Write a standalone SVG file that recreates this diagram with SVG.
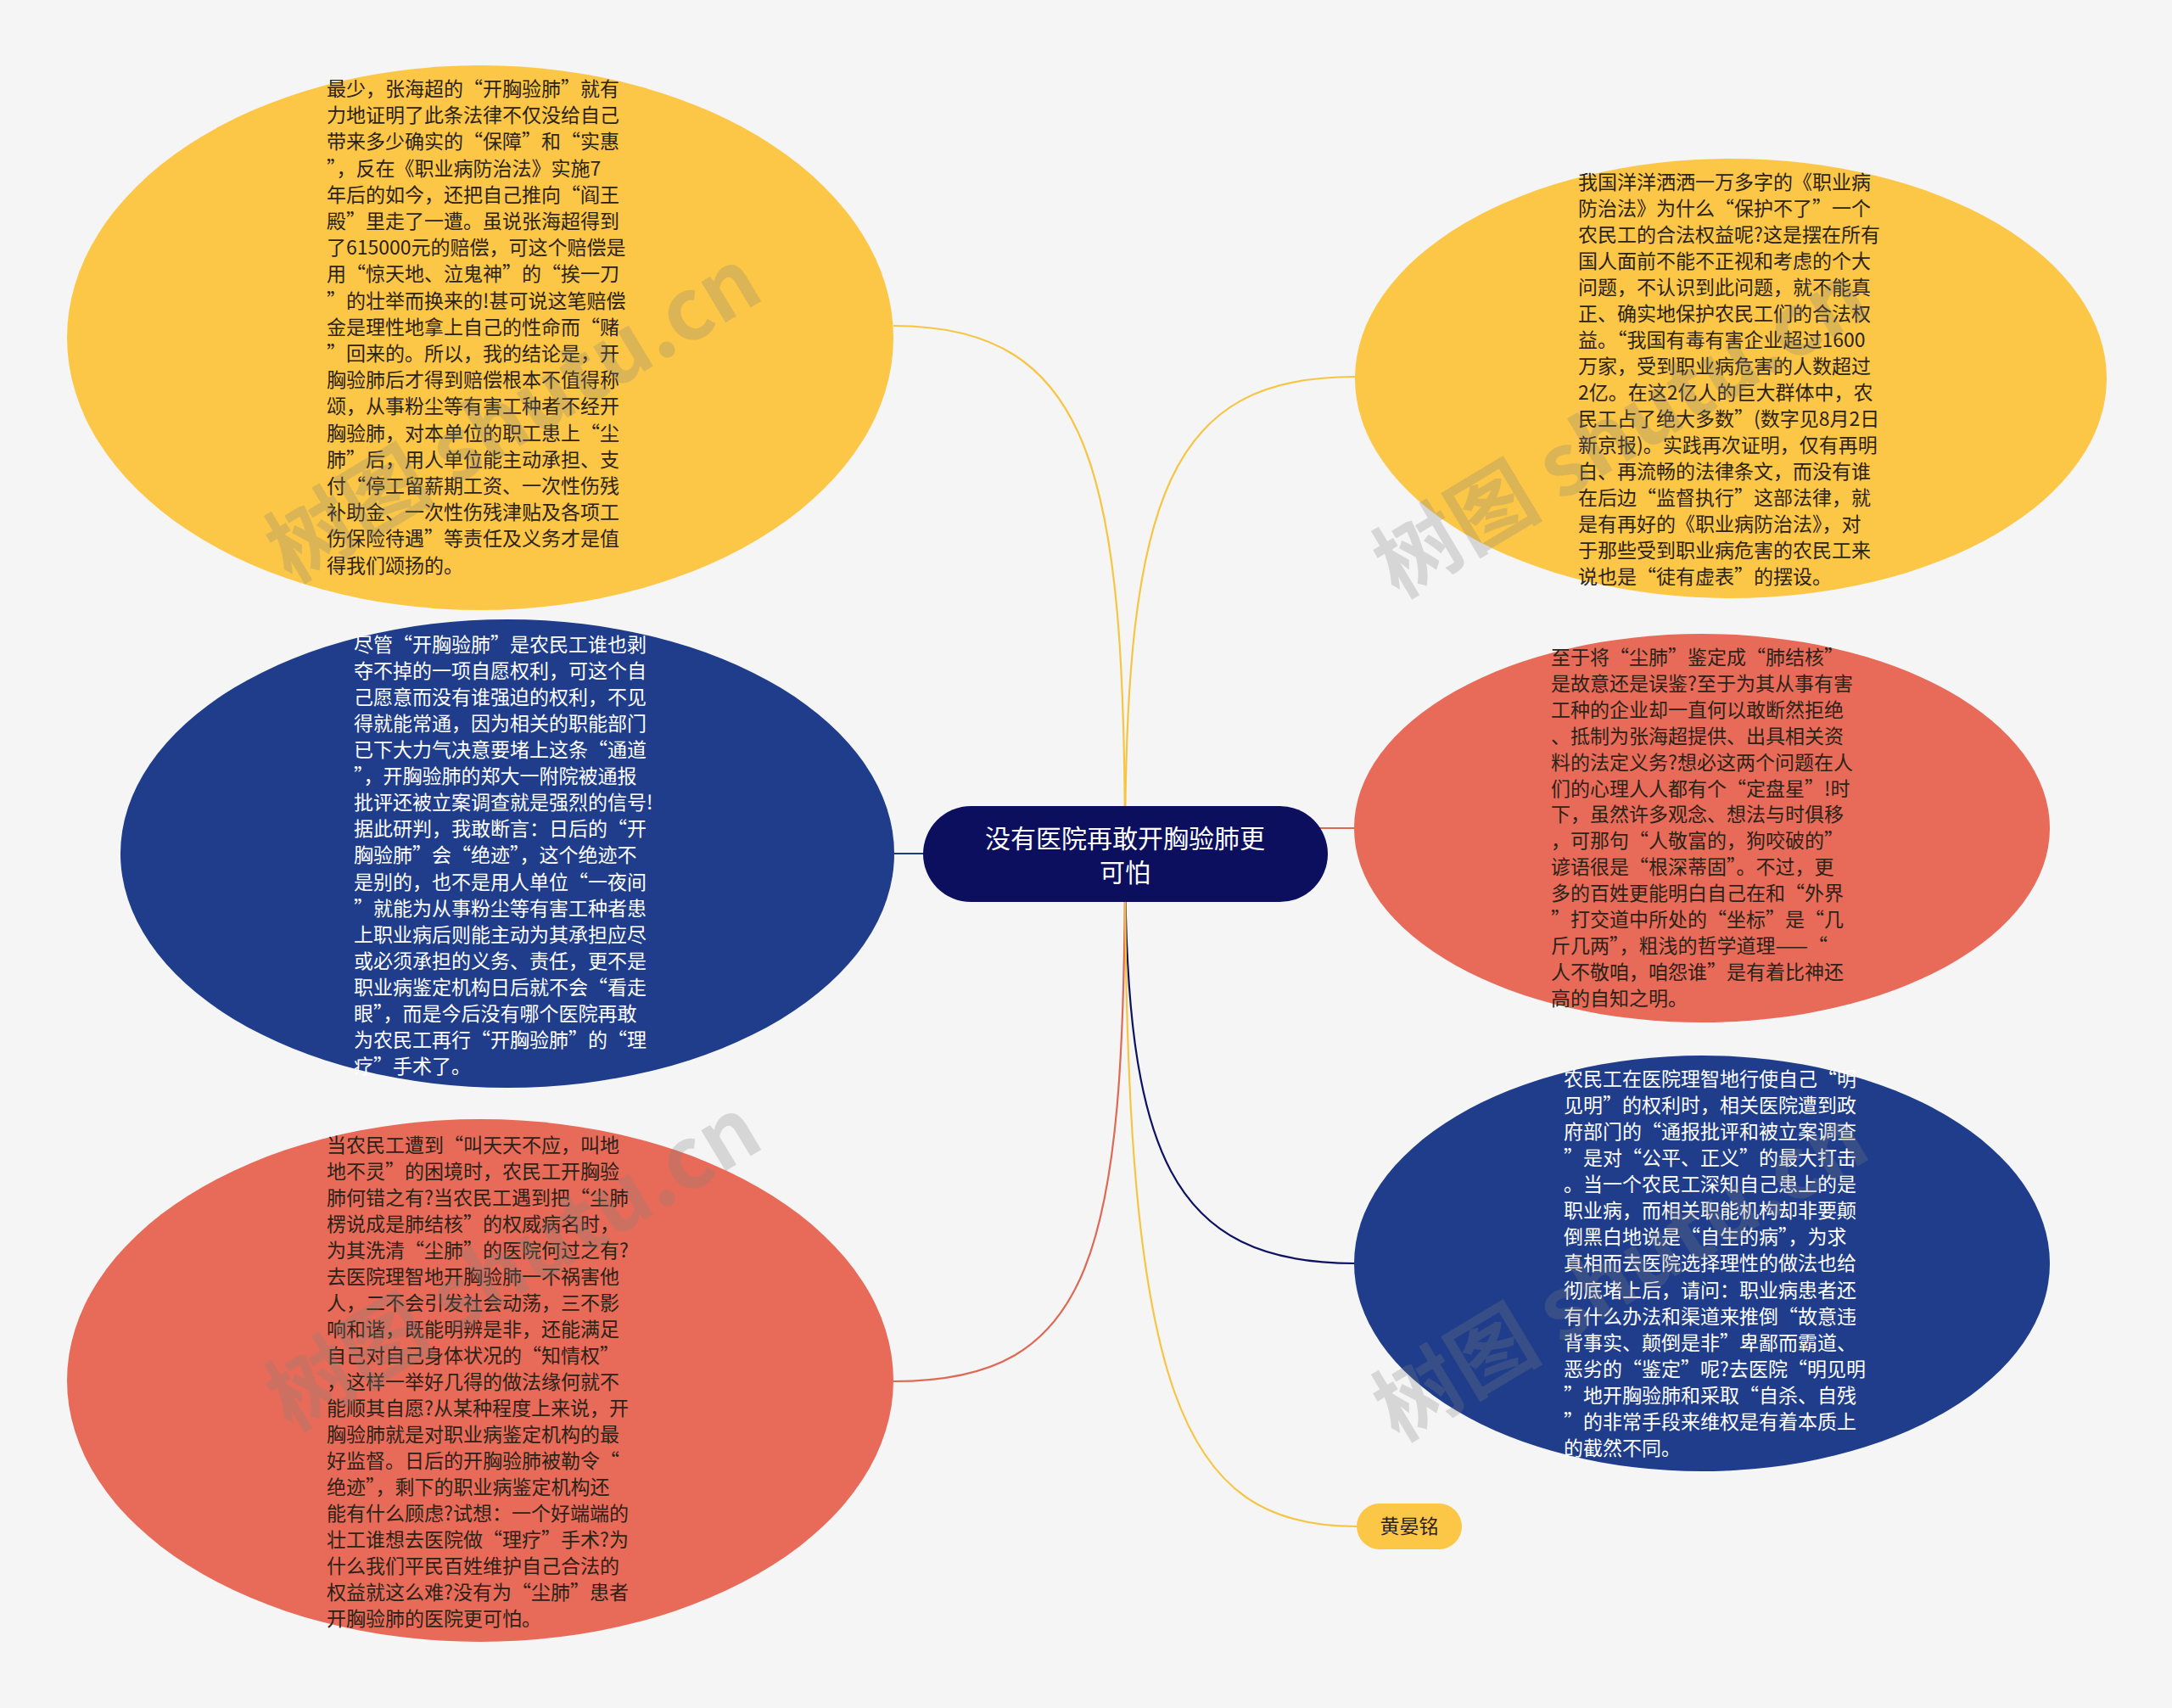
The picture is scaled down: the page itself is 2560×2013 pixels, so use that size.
<svg xmlns="http://www.w3.org/2000/svg" width="2560" height="2013" viewBox="0 0 2560 2013">
<style>
.t{font-family:"Noto Sans CJK SC","Noto Sans",sans-serif;font-size:23px}
.dk{fill:#2b2218}
.wt{fill:#ffffff}
.c{fill:none;stroke-width:2.2}
.wm{font-family:"Noto Sans CJK SC","Noto Sans",sans-serif;font-size:100px;font-weight:bold;fill:#808080;opacity:0.26}
.ct{font-family:"Noto Sans CJK SC","Noto Sans",sans-serif;font-size:30px;fill:#ffffff}
</style>
<rect width="2560" height="2013" fill="#f5f5f5"/>
<g id="connectors">
<path class="c" stroke="#f6c544" d="M1326 1006 C1326 560 1290 384 1053 384"/>
<path class="c" stroke="#1f3a86" d="M1326 1006 L1053 1006"/>
<path class="c" stroke="#dd6a55" d="M1326 1006 C1326 1480 1290 1628 1053 1628"/>
<path class="c" stroke="#f6c544" d="M1326 1006 C1326 580 1380 444 1597 444"/>
<path class="c" stroke="#dd6a55" d="M1326 1006 L1326 976 L1597 976"/>
<path class="c" stroke="#0c1260" d="M1326 1006 C1326 1360 1380 1489 1597 1489"/>
<path class="c" stroke="#f6c544" d="M1326 1006 C1326 1640 1390 1799 1599 1799"/>
</g>
<g id="node-tl">
<ellipse cx="566" cy="398" rx="487" ry="321" fill="#fcc746"/>
<text class="t dk" x="385" y="113">
<tspan x="385">最少，张海超的“开胸验肺”就有</tspan>
<tspan x="385" dy="31.2">力地证明了此条法律不仅没给自己</tspan>
<tspan x="385" dy="31.2">带来多少确实的“保障”和“实惠</tspan>
<tspan x="385" dy="31.2">”，反在《职业病防治法》实施7</tspan>
<tspan x="385" dy="31.2">年后的如今，还把自己推向“阎王</tspan>
<tspan x="385" dy="31.2">殿”里走了一遭。虽说张海超得到</tspan>
<tspan x="385" dy="31.2">了615000元的赔偿，可这个赔偿是</tspan>
<tspan x="385" dy="31.2">用“惊天地、泣鬼神”的“挨一刀</tspan>
<tspan x="385" dy="31.2">”的壮举而换来的!甚可说这笔赔偿</tspan>
<tspan x="385" dy="31.2">金是理性地拿上自己的性命而“赌</tspan>
<tspan x="385" dy="31.2">”回来的。所以，我的结论是，开</tspan>
<tspan x="385" dy="31.2">胸验肺后才得到赔偿根本不值得称</tspan>
<tspan x="385" dy="31.2">颂，从事粉尘等有害工种者不经开</tspan>
<tspan x="385" dy="31.2">胸验肺，对本单位的职工患上“尘</tspan>
<tspan x="385" dy="31.2">肺”后，用人单位能主动承担、支</tspan>
<tspan x="385" dy="31.2">付“停工留薪期工资、一次性伤残</tspan>
<tspan x="385" dy="31.2">补助金、一次性伤残津贴及各项工</tspan>
<tspan x="385" dy="31.2">伤保险待遇”等责任及义务才是值</tspan>
<tspan x="385" dy="31.2">得我们颂扬的。</tspan>
</text>
</g>
<g id="node-ml">
<ellipse cx="598" cy="1006" rx="456" ry="276" fill="#1f3d8a"/>
<text class="t wt" x="417" y="768">
<tspan x="417">尽管“开胸验肺”是农民工谁也剥</tspan>
<tspan x="417" dy="31.06">夺不掉的一项自愿权利，可这个自</tspan>
<tspan x="417" dy="31.06">己愿意而没有谁强迫的权利，不见</tspan>
<tspan x="417" dy="31.06">得就能常通，因为相关的职能部门</tspan>
<tspan x="417" dy="31.06">已下大力气决意要堵上这条“通道</tspan>
<tspan x="417" dy="31.06">”，开胸验肺的郑大一附院被通报</tspan>
<tspan x="417" dy="31.06">批评还被立案调查就是强烈的信号!</tspan>
<tspan x="417" dy="31.06">据此研判，我敢断言：日后的“开</tspan>
<tspan x="417" dy="31.06">胸验肺”会“绝迹”，这个绝迹不</tspan>
<tspan x="417" dy="31.06">是别的，也不是用人单位“一夜间</tspan>
<tspan x="417" dy="31.06">”就能为从事粉尘等有害工种者患</tspan>
<tspan x="417" dy="31.06">上职业病后则能主动为其承担应尽</tspan>
<tspan x="417" dy="31.06">或必须承担的义务、责任，更不是</tspan>
<tspan x="417" dy="31.06">职业病鉴定机构日后就不会“看走</tspan>
<tspan x="417" dy="31.06">眼”，而是今后没有哪个医院再敢</tspan>
<tspan x="417" dy="31.06">为农民工再行“开胸验肺”的“理</tspan>
<tspan x="417" dy="31.06">疗”手术了。</tspan>
</text>
</g>
<g id="node-bl">
<ellipse cx="566" cy="1627" rx="487" ry="308" fill="#e76b58"/>
<text class="t dk" x="385" y="1358">
<tspan x="385">当农民工遭到“叫天天不应，叫地</tspan>
<tspan x="385" dy="31">地不灵”的困境时，农民工开胸验</tspan>
<tspan x="385" dy="31">肺何错之有?当农民工遇到把“尘肺</tspan>
<tspan x="385" dy="31">楞说成是肺结核”的权威病名时，</tspan>
<tspan x="385" dy="31">为其洗清“尘肺”的医院何过之有?</tspan>
<tspan x="385" dy="31">去医院理智地开胸验肺一不祸害他</tspan>
<tspan x="385" dy="31">人，二不会引发社会动荡，三不影</tspan>
<tspan x="385" dy="31">响和谐，既能明辨是非，还能满足</tspan>
<tspan x="385" dy="31">自己对自己身体状况的“知情权”</tspan>
<tspan x="385" dy="31">，这样一举好几得的做法缘何就不</tspan>
<tspan x="385" dy="31">能顺其自愿?从某种程度上来说，开</tspan>
<tspan x="385" dy="31">胸验肺就是对职业病鉴定机构的最</tspan>
<tspan x="385" dy="31">好监督。日后的开胸验肺被勒令“</tspan>
<tspan x="385" dy="31">绝迹”，剩下的职业病鉴定机构还</tspan>
<tspan x="385" dy="31">能有什么顾虑?试想：一个好端端的</tspan>
<tspan x="385" dy="31">壮工谁想去医院做“理疗”手术?为</tspan>
<tspan x="385" dy="31">什么我们平民百姓维护自己合法的</tspan>
<tspan x="385" dy="31">权益就这么难?没有为“尘肺”患者</tspan>
<tspan x="385" dy="31">开胸验肺的医院更可怕。</tspan>
</text>
</g>
<g id="node-tr">
<ellipse cx="2040" cy="446" rx="443" ry="259" fill="#fcc746"/>
<text class="t dk" x="1860" y="223">
<tspan x="1860">我国洋洋洒洒一万多字的《职业病</tspan>
<tspan x="1860" dy="31">防治法》为什么“保护不了”一个</tspan>
<tspan x="1860" dy="31">农民工的合法权益呢?这是摆在所有</tspan>
<tspan x="1860" dy="31">国人面前不能不正视和考虑的个大</tspan>
<tspan x="1860" dy="31">问题，不认识到此问题，就不能真</tspan>
<tspan x="1860" dy="31">正、确实地保护农民工们的合法权</tspan>
<tspan x="1860" dy="31">益。“我国有毒有害企业超过1600</tspan>
<tspan x="1860" dy="31">万家，受到职业病危害的人数超过</tspan>
<tspan x="1860" dy="31">2亿。在这2亿人的巨大群体中，农</tspan>
<tspan x="1860" dy="31">民工占了绝大多数”(数字见8月2日</tspan>
<tspan x="1860" dy="31">新京报)。实践再次证明，仅有再明</tspan>
<tspan x="1860" dy="31">白、再流畅的法律条文，而没有谁</tspan>
<tspan x="1860" dy="31">在后边“监督执行”这部法律，就</tspan>
<tspan x="1860" dy="31">是有再好的《职业病防治法》，对</tspan>
<tspan x="1860" dy="31">于那些受到职业病危害的农民工来</tspan>
<tspan x="1860" dy="31">说也是“徒有虚表”的摆设。</tspan>
</text>
</g>
<g id="node-mr">
<ellipse cx="2006" cy="976" rx="410" ry="229" fill="#e76b58"/>
<text class="t dk" x="1828" y="783">
<tspan x="1828">至于将“尘肺”鉴定成“肺结核”</tspan>
<tspan x="1828" dy="30.9">是故意还是误鉴?至于为其从事有害</tspan>
<tspan x="1828" dy="30.9">工种的企业却一直何以敢断然拒绝</tspan>
<tspan x="1828" dy="30.9">、抵制为张海超提供、出具相关资</tspan>
<tspan x="1828" dy="30.9">料的法定义务?想必这两个问题在人</tspan>
<tspan x="1828" dy="30.9">们的心理人人都有个“定盘星”!时</tspan>
<tspan x="1828" dy="30.9">下，虽然许多观念、想法与时俱移</tspan>
<tspan x="1828" dy="30.9">，可那句“人敬富的，狗咬破的”</tspan>
<tspan x="1828" dy="30.9">谚语很是“根深蒂固”。不过，更</tspan>
<tspan x="1828" dy="30.9">多的百姓更能明白自己在和“外界</tspan>
<tspan x="1828" dy="30.9">”打交道中所处的“坐标”是“几</tspan>
<tspan x="1828" dy="30.9">斤几两”，粗浅的哲学道理——“</tspan>
<tspan x="1828" dy="30.9">人不敬咱，咱怨谁”是有着比神还</tspan>
<tspan x="1828" dy="30.9">高的自知之明。</tspan>
</text>
</g>
<g id="node-br">
<ellipse cx="2006" cy="1489" rx="410" ry="245" fill="#1f3d8a"/>
<text class="t wt" x="1843" y="1280">
<tspan x="1843">农民工在医院理智地行使自己“明</tspan>
<tspan x="1843" dy="31.07">见明”的权利时，相关医院遭到政</tspan>
<tspan x="1843" dy="31.07">府部门的“通报批评和被立案调查</tspan>
<tspan x="1843" dy="31.07">”是对“公平、正义”的最大打击</tspan>
<tspan x="1843" dy="31.07">。当一个农民工深知自己患上的是</tspan>
<tspan x="1843" dy="31.07">职业病，而相关职能机构却非要颠</tspan>
<tspan x="1843" dy="31.07">倒黑白地说是“自生的病”，为求</tspan>
<tspan x="1843" dy="31.07">真相而去医院选择理性的做法也给</tspan>
<tspan x="1843" dy="31.07">彻底堵上后，请问：职业病患者还</tspan>
<tspan x="1843" dy="31.07">有什么办法和渠道来推倒“故意违</tspan>
<tspan x="1843" dy="31.07">背事实、颠倒是非”卑鄙而霸道、</tspan>
<tspan x="1843" dy="31.07">恶劣的“鉴定”呢?去医院“明见明</tspan>
<tspan x="1843" dy="31.07">”地开胸验肺和采取“自杀、自残</tspan>
<tspan x="1843" dy="31.07">”的非常手段来维权是有着本质上</tspan>
<tspan x="1843" dy="31.07">的截然不同。</tspan>
</text>
</g>
<g id="node-author">
<rect x="1599" y="1772" width="124" height="54" rx="27" fill="#fcc746"/>
<text class="t dk" x="1661" y="1807" text-anchor="middle">黄晏铭</text>
</g>
<g id="node-center">
<rect x="1088" y="950" width="477" height="113" rx="56.5" fill="#0b0f5e"/>
<text class="ct" x="1326" y="999" text-anchor="middle">没有医院再敢开胸验肺更</text>
<text class="ct" x="1326" y="1039" text-anchor="middle">可怕</text>
</g>
<g id="watermarks">
<text class="wm" transform="translate(343 688) rotate(-31)">树图 shutu.cn</text>
<text class="wm" transform="translate(343 1688) rotate(-31)">树图 shutu.cn</text>
<text class="wm" transform="translate(1648 706) rotate(-31)">树图 shutu.cn</text>
<text class="wm" transform="translate(1648 1700) rotate(-31)">树图 shutu.cn</text>
</g>
</svg>
